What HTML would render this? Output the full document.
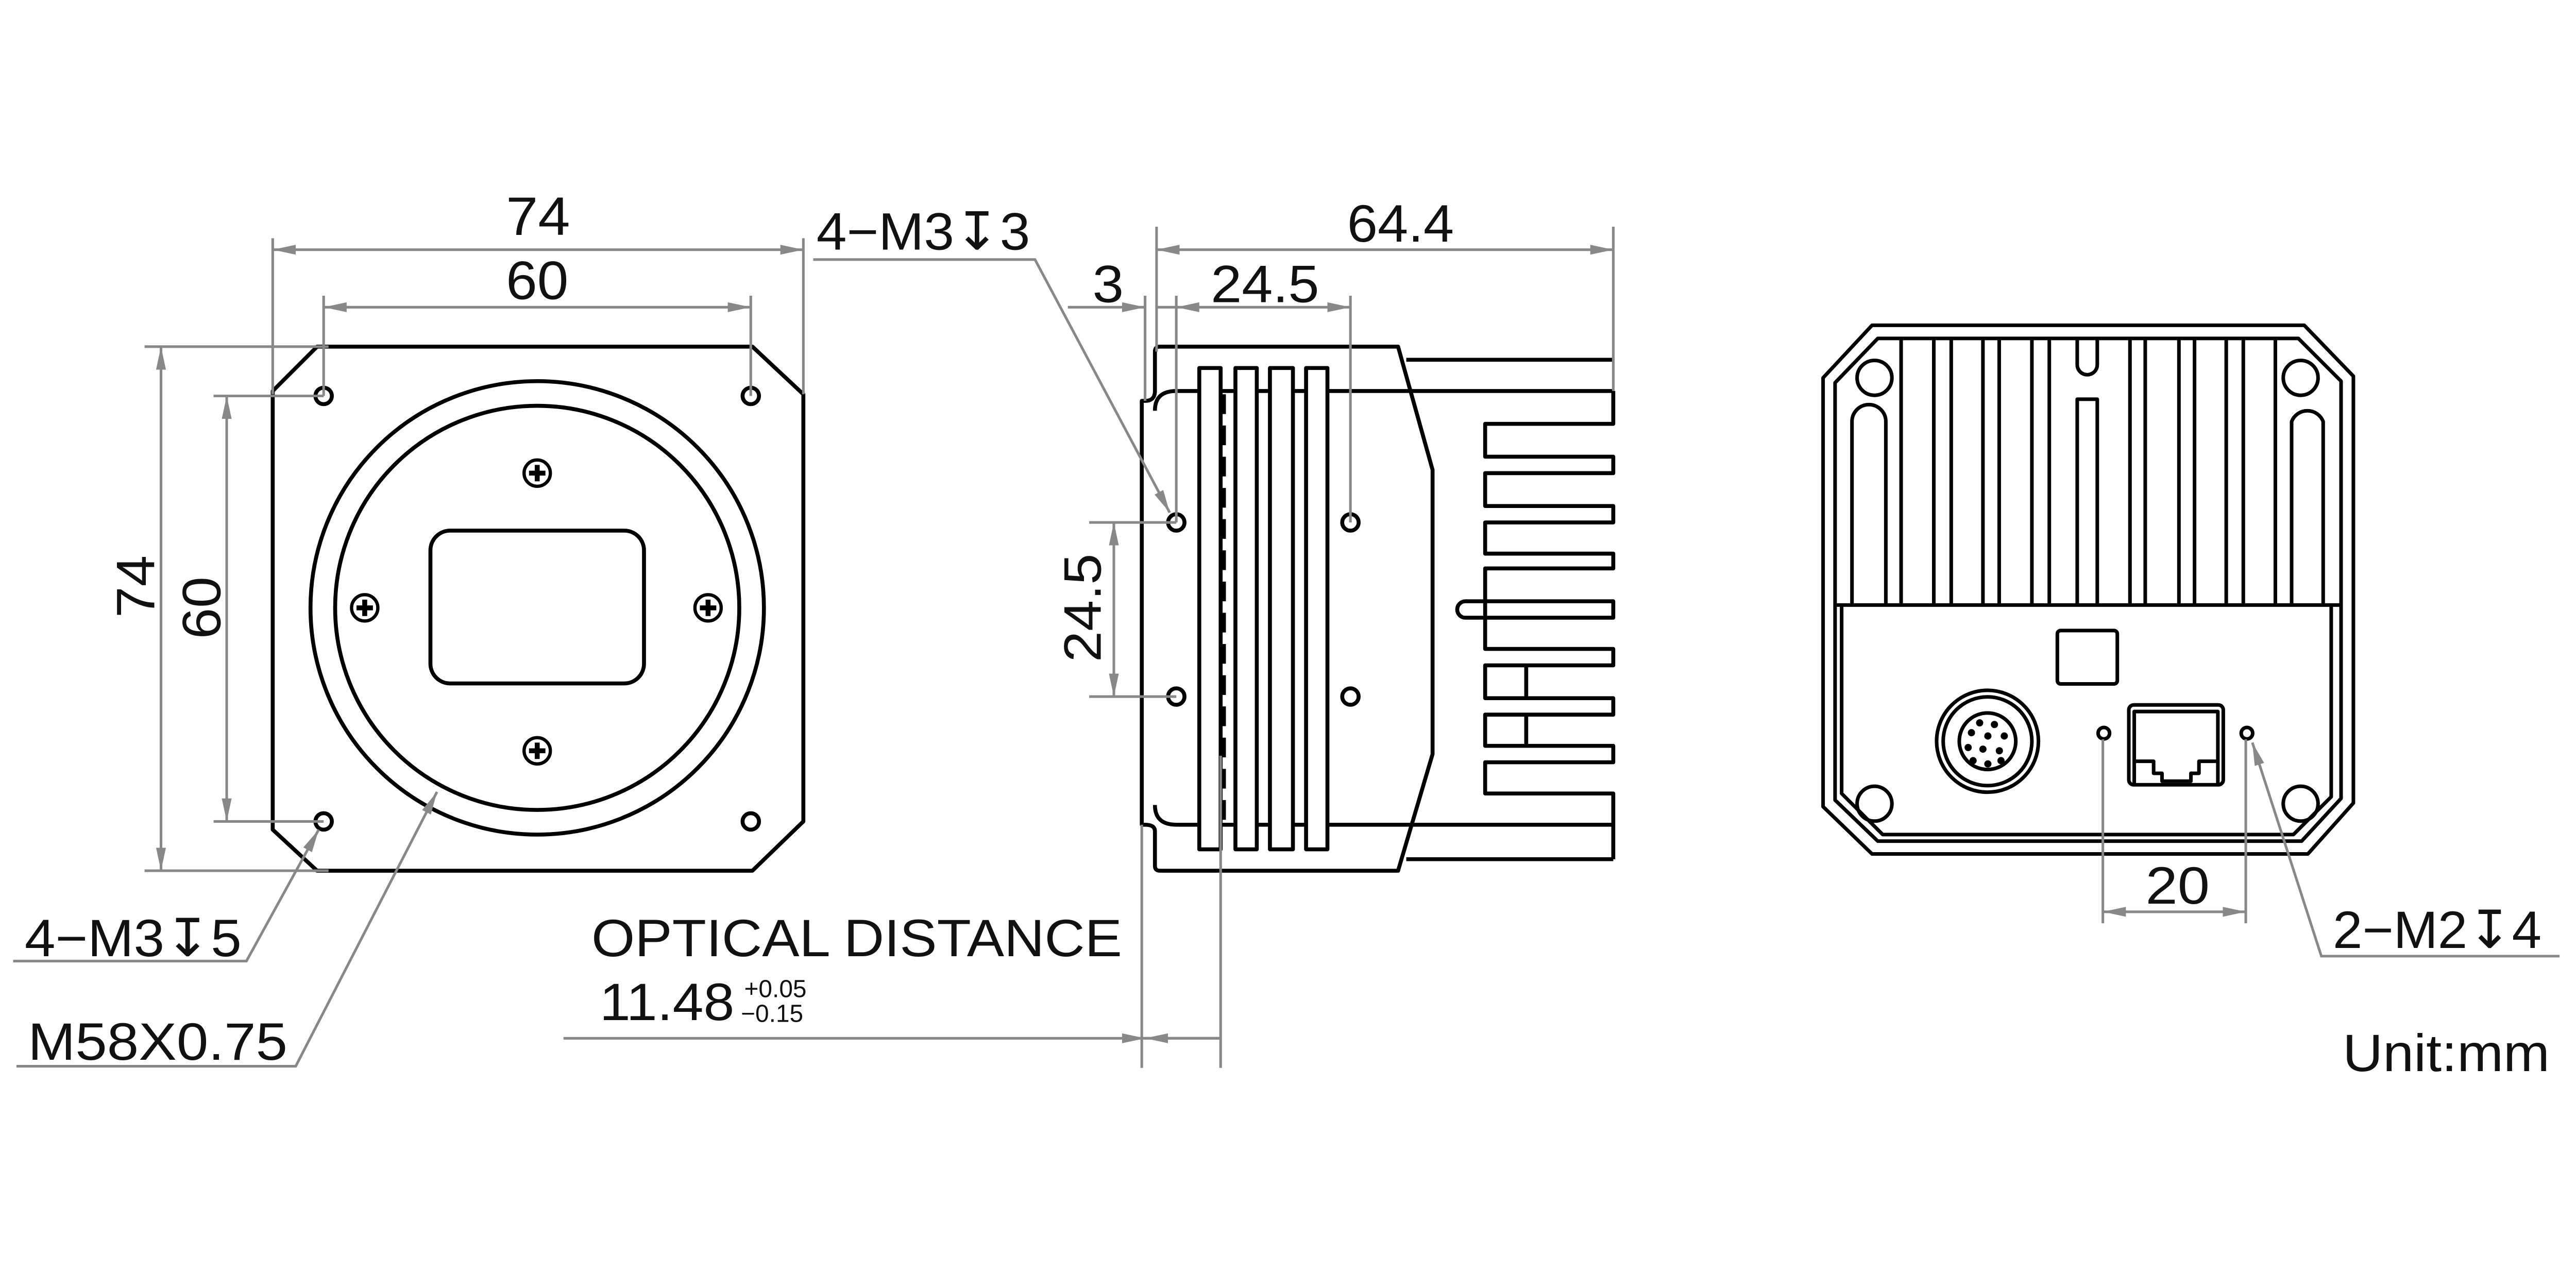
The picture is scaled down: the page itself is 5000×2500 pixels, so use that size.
<!DOCTYPE html>
<html><head><meta charset="utf-8"><style>
html,body{margin:0;padding:0;background:#fff}
svg{display:block}
text{font-family:"Liberation Sans","DejaVu Sans",sans-serif;fill:#111}
</style></head><body>
<svg width="5000" height="2500" viewBox="0 0 1568 784" xmlns="http://www.w3.org/2000/svg">
<defs>
<marker id="a" viewBox="0 0 14 6" refX="14" refY="3" markerWidth="14" markerHeight="6" markerUnits="userSpaceOnUse" orient="auto-start-reverse">
<path d="M0,0 L14,3 L0,6 Z" fill="#888"/></marker>
</defs>
<rect width="1568" height="784" fill="#fff"/>

<!-- ============ LEFT VIEW ============ -->
<g fill="none" stroke="#000" stroke-width="2.4" stroke-linejoin="round">
<path d="M193,211 H458 L489,240 V500 L458,530 H193 L166,505 V238 Z"/>
<circle cx="327" cy="370" r="138"/>
<circle cx="327" cy="370" r="123"/>
<rect x="262" y="323" width="130" height="93" rx="12"/>
<circle cx="197" cy="241" r="5"/><circle cx="457" cy="241" r="5"/>
<circle cx="197" cy="500" r="5"/><circle cx="457" cy="500" r="5"/>
<g stroke-width="2">
<circle cx="327" cy="288" r="8"/><circle cx="327" cy="457" r="8"/>
<circle cx="222" cy="370" r="8"/><circle cx="431" cy="370" r="8"/>
</g>
</g>
<g stroke="#000" stroke-width="3">
<path d="M322,288h10M327,283v10M322,457h10M327,452v10M217,370h10M222,365v10M426,370h10M431,365v10"/>
</g>

<!-- left dims -->
<g fill="none" stroke="#888" stroke-width="1.6">
<path d="M166,145 V240 M489,145 V240"/>
<path d="M166,152 H489" marker-start="url(#a)" marker-end="url(#a)"/>
<path d="M197,180 V241 M457,180 V241"/>
<path d="M197,187 H457" marker-start="url(#a)" marker-end="url(#a)"/>
<path d="M88,211 H200 M88,530 H200"/>
<path d="M98,211 V530" marker-start="url(#a)" marker-end="url(#a)"/>
<path d="M130,241 H197 M130,500 H197"/>
<path d="M138,241 V500" marker-start="url(#a)" marker-end="url(#a)"/>
<path d="M8,585 H150 L194,505" marker-end="url(#a)"/>
<path d="M10,649 H180 L266,482" marker-end="url(#a)"/>
</g>
<text x="308" y="143" font-size="33" textLength="39" lengthAdjust="spacingAndGlyphs">74</text>
<text x="308" y="182" font-size="33" textLength="38" lengthAdjust="spacingAndGlyphs">60</text>
<text transform="translate(94,376) rotate(-90)" font-size="33" textLength="38" lengthAdjust="spacingAndGlyphs">74</text>
<text transform="translate(134,389) rotate(-90)" font-size="33" textLength="38" lengthAdjust="spacingAndGlyphs">60</text>
<text x="15" y="582" font-size="32" textLength="132" lengthAdjust="spacingAndGlyphs">4−M3↧5</text>
<text x="17" y="645" font-size="32" textLength="158" lengthAdjust="spacingAndGlyphs">M58X0.75</text>

<!-- ============ MIDDLE VIEW ============ -->
<g fill="none" stroke="#000" stroke-width="2.4" stroke-linejoin="round">
<path d="M706,211 H851 L872,286 V459 L851,530 H706 Q703,530 703,527 V506 Q703,502 697,502 H695 V244 H697 Q703,244 703,238 V214 Q703,211 706,211 Z"/>
<path d="M730,238 H716 Q703,238 703,250 M703,490 Q703,502 716,502 H730"/>
<path d="M743,238 H752 M765,238 H773 M787,238 H795 M808,238 H982"/>
<path d="M743,502 H752 M765,502 H773 M787,502 H795 M808,502 H982"/>
<path d="M856,219 H982 M856,523 H982"/>
<rect x="730" y="224" width="13" height="293"/>
<rect x="752" y="224" width="13" height="293"/>
<rect x="773" y="224" width="14" height="293"/>
<rect x="795" y="224" width="13" height="293"/>
<path d="M982,238 V258 H904 V278 H982 V288 H904 V308 H982 V318 H904 V337 H982 V346 H904 V395 H982 V405 H904 V425 H982 V435 H904 V454 H982 V464 H904 V483 H982 V523"/>
<path d="M982,366 H892 A5,5 0 0 0 892,376 H982 Z"/>
<path d="M929,405 V425 M929,435 V454"/>
<circle cx="716" cy="318" r="5"/><circle cx="822" cy="318" r="5"/>
<circle cx="716" cy="424" r="5"/><circle cx="822" cy="424" r="5"/>
</g>
<path d="M745,240 V506" stroke="#000" stroke-width="2.4" stroke-dasharray="12,7"/>

<g fill="none" stroke="#888" stroke-width="1.6">
<path d="M704,138 V214 M982,138 V238"/>
<path d="M704,152 H982" marker-start="url(#a)" marker-end="url(#a)"/>
<path d="M697,180 V244"/>
<path d="M650,187 H697" marker-end="url(#a)"/>
<path d="M704,187 H716"/>
<path d="M716,180 V318 M822,180 V318"/>
<path d="M716,187 H822" marker-start="url(#a)" marker-end="url(#a)"/>
<path d="M663,318 H716 M663,424 H716"/>
<path d="M678,318 V424" marker-start="url(#a)" marker-end="url(#a)"/>
<path d="M495,158 H630 L712,312" marker-end="url(#a)"/>
<path d="M695,502 V650 M743,460 V650"/>
<path d="M343,632 H697" marker-end="url(#a)"/>
<path d="M743,632 H697" marker-end="url(#a)"/>
<path d="M697,632 H743"/>
</g>
<text x="820" y="147" font-size="32" textLength="65" lengthAdjust="spacingAndGlyphs">64.4</text>
<text x="665" y="184" font-size="32" textLength="19" lengthAdjust="spacingAndGlyphs">3</text>
<text x="737" y="184" font-size="32" textLength="66" lengthAdjust="spacingAndGlyphs">24.5</text>
<text transform="translate(670,403) rotate(-90)" font-size="32" textLength="66" lengthAdjust="spacingAndGlyphs">24.5</text>
<text x="497" y="152" font-size="32" textLength="130" lengthAdjust="spacingAndGlyphs">4−M3↧3</text>
<text x="360" y="582" font-size="32" textLength="323" lengthAdjust="spacingAndGlyphs">OPTICAL DISTANCE</text>
<text x="365" y="621" font-size="32" textLength="82" lengthAdjust="spacingAndGlyphs">11.48</text>
<text x="453" y="607" font-size="15">+0.05</text>
<text x="451" y="622" font-size="15">−0.15</text>

<!-- ============ RIGHT VIEW ============ -->
<g fill="none" stroke="#000" stroke-width="2.2" stroke-linejoin="round">
<path d="M1139.5,198 H1402.6 L1432.5,229 V488.8 L1404.8,519.8 H1139.5 L1109.7,491 V230 Z"/>
<path d="M1143,206 H1399 L1425,232 V486 L1401,512 H1143 L1117,487 V233 Z"/>
<path d="M1121,368.3 V483 L1146,508 H1396 L1419,485 V368.3"/>
<path d="M1117,368.3 H1425"/>
<path d="M1127.3,368.3 V256.6 A10.3,10.3 0 0 1 1147.9,256.6 V368.3"/>
<path d="M1394.9,368.3 V256.6 A10.3,10.3 0 0 1 1414.1,256.6 V368.3"/>
<path d="M1157.2,207 V368.3 M1177.1,207 V368.3 M1187.7,207 V368.3 M1207,207 V368.3 M1216.9,207 V368.3 M1236.8,207 V368.3 M1247.4,207 V368.3 M1296.5,207 V368.3 M1305.8,207 V368.3 M1326.3,207 V368.3 M1335.8,207 V368.3 M1355.1,207 V368.3 M1365.5,207 V368.3 M1385,207 V368.3"/>
<path d="M1264.4,207 V222 A6.1,6.1 0 0 0 1276.6,222 V207"/>
<path d="M1264.4,368.3 V243 H1276.6 V368.3"/>
<circle cx="1141" cy="230" r="10.6"/><circle cx="1400.4" cy="230" r="10.6"/>
<circle cx="1141" cy="489.2" r="10.6"/><circle cx="1400.4" cy="489.2" r="10.6"/>
<rect x="1252.3" y="383.8" width="36.5" height="32.5" rx="2"/>
<circle cx="1209.8" cy="451.2" r="31"/>
<circle cx="1209.8" cy="451.2" r="27"/>
<circle cx="1209.8" cy="451.2" r="17.2"/>
<circle cx="1280.6" cy="446.3" r="3.5"/><circle cx="1367.7" cy="446.3" r="3.5"/>
<rect x="1295.8" y="429.1" width="57.5" height="48.6" rx="3"/>
<path d="M1299.1,477 V433.1 H1350 V477"/>
<path d="M1299.1,463.4 H1310.9 V470.7 H1316 V475.5 H1333.6 V470.7 H1338.5 V463.4 H1350"/>
</g>
<g fill="#000">
<circle cx="1205" cy="440" r="2.2"/><circle cx="1214" cy="441" r="2.2"/>
<circle cx="1200" cy="446" r="2.2"/><circle cx="1210" cy="448" r="2.2"/><circle cx="1220" cy="448" r="2.2"/>
<circle cx="1198" cy="455" r="2.2"/><circle cx="1207" cy="456" r="2.2"/><circle cx="1217" cy="457" r="2.2"/>
<circle cx="1201" cy="463" r="2.2"/><circle cx="1210" cy="465" r="2.2"/><circle cx="1218" cy="463" r="2.2"/>
</g>

<g fill="none" stroke="#888" stroke-width="1.6">
<path d="M1280,450 V562 M1367,450 V562"/>
<path d="M1280,555 H1367" marker-start="url(#a)" marker-end="url(#a)"/>
<path d="M1558,582 H1413 L1371,452" marker-end="url(#a)"/>
</g>
<text x="1306" y="550" font-size="32" textLength="39" lengthAdjust="spacingAndGlyphs">20</text>
<text x="1420" y="577" font-size="32" textLength="127" lengthAdjust="spacingAndGlyphs">2−M2↧4</text>
<text x="1426" y="652" font-size="32" textLength="126" lengthAdjust="spacingAndGlyphs">Unit:mm</text>
</svg>
</body></html>
